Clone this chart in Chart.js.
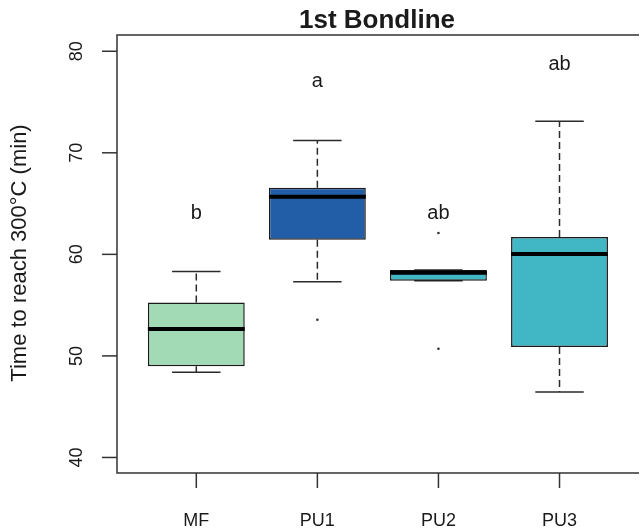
<!DOCTYPE html>
<html>
<head>
<meta charset="utf-8">
<script src="https://cdn.jsdelivr.net/npm/chart.js@4"></script>
<style>
  html, body { margin: 0; padding: 0; background: #fff; overflow: hidden; }
  #wrap { width: 641px; height: 529px; }
</style>
</head>
<body>
<div id="wrap"><canvas id="boxChart" width="641" height="529"></canvas></div>
<script>
// ===== DATA =====
var categories = ['MF', 'PU1', 'PU2', 'PU3'];
var lowWhisker = [48.4, 57.3, 57.4, 46.45];
var q1 = [48.97, 61.44, 57.4, 50.88];
var medians = [52.65, 65.67, 58.2, 60.03];
var q3 = [55.27, 66.56, 58.45, 61.7];
var highWhisker = [58.32, 71.2, 58.45, 73.1];
var outliers = [[], [53.56], [62.1, 50.71], []];
var letters = ['b', 'a', 'ab', 'ab'];
var letterY = [64.0, 77.0, 64.07, 78.65];
var fills = ['#a1dab4', '#225ea8', '#41b6c4', '#41b6c4'];
var yTicks = [40, 50, 60, 70, 80];

var titleText = '1st Bondline';
var yTitle = 'Time to reach 300\u00B0C (min)';
var FONT = '"Liberation Sans", Arial, sans-serif';
var INK = '#1a1a1a';

// ===== DATASETS =====
var boxData = [];
var outlierData = [];
for (var i = 0; i < categories.length; i++) {
  boxData.push({ x: i + 1, y: [q1[i], q3[i]] });
  for (var k = 0; k < outliers[i].length; k++) {
    outlierData.push({ x: i + 1, y: outliers[i][k] });
  }
}

// ===== DRAWING PLUGIN: whiskers, medians, axes, text =====
var boxplotDecor = {
  id: 'boxplotDecor',
  beforeDatasetsDraw: function(chart) {
    var ctx = chart.ctx, xs = chart.scales.x, ys = chart.scales.y;
    var unit = xs.getPixelForValue(2) - xs.getPixelForValue(1);
    ctx.save();
    ctx.strokeStyle = '#2a2a2a';
    ctx.lineWidth = 1.5;
    for (var i = 0; i < categories.length; i++) {
      var cx = xs.getPixelForValue(i + 1);
      // dashed whiskers
      ctx.setLineDash([7, 4]);
      ctx.beginPath();
      ctx.moveTo(cx, ys.getPixelForValue(q3[i]));
      ctx.lineTo(cx, ys.getPixelForValue(highWhisker[i]));
      ctx.moveTo(cx, ys.getPixelForValue(q1[i]));
      ctx.lineTo(cx, ys.getPixelForValue(lowWhisker[i]));
      ctx.stroke();
      // caps
      ctx.setLineDash([]);
      var hw = unit * 0.2;
      ctx.beginPath();
      ctx.moveTo(cx - hw, ys.getPixelForValue(highWhisker[i]));
      ctx.lineTo(cx + hw, ys.getPixelForValue(highWhisker[i]));
      ctx.moveTo(cx - hw, ys.getPixelForValue(lowWhisker[i]));
      ctx.lineTo(cx + hw, ys.getPixelForValue(lowWhisker[i]));
      ctx.stroke();
    }
    ctx.restore();
  },
  afterDatasetsDraw: function(chart) {
    var ctx = chart.ctx, xs = chart.scales.x, ys = chart.scales.y;
    var area = chart.chartArea;
    var unit = xs.getPixelForValue(2) - xs.getPixelForValue(1);
    ctx.save();

    // medians
    ctx.strokeStyle = '#000';
    ctx.lineWidth = 4;
    for (var i = 0; i < categories.length; i++) {
      var cx = xs.getPixelForValue(i + 1);
      var my = ys.getPixelForValue(medians[i]);
      ctx.beginPath();
      ctx.moveTo(cx - unit * 0.4, my);
      ctx.lineTo(cx + unit * 0.4, my);
      ctx.stroke();
    }

    // frame (right side falls off the canvas)
    ctx.strokeStyle = '#333';
    ctx.lineWidth = 1.5;
    ctx.beginPath();
    ctx.moveTo(area.right + 2, area.top);
    ctx.lineTo(area.left, area.top);
    ctx.lineTo(area.left, area.bottom);
    ctx.lineTo(area.right + 2, area.bottom);
    ctx.stroke();

    // y ticks + rotated labels
    ctx.fillStyle = INK;
    ctx.font = '18px ' + FONT;
    ctx.textAlign = 'center';
    ctx.textBaseline = 'middle';
    for (var t = 0; t < yTicks.length; t++) {
      var ty = ys.getPixelForValue(yTicks[t]);
      ctx.beginPath();
      ctx.moveTo(area.left, ty);
      ctx.lineTo(area.left - 15, ty);
      ctx.stroke();
      ctx.save();
      ctx.translate(77, ty);
      ctx.rotate(-Math.PI / 2);
      ctx.fillText(String(yTicks[t]), 0, 0);
      ctx.restore();
    }

    // x ticks + labels
    ctx.textBaseline = 'alphabetic';
    for (var c = 0; c < categories.length; c++) {
      var tx = xs.getPixelForValue(c + 1);
      ctx.beginPath();
      ctx.moveTo(tx, area.bottom);
      ctx.lineTo(tx, area.bottom + 15);
      ctx.stroke();
      ctx.fillText(categories[c], tx, 526);
    }

    // y axis title
    ctx.font = '22px ' + FONT;
    ctx.save();
    ctx.translate(20, (area.top + area.bottom) / 2 - 1);
    ctx.rotate(-Math.PI / 2);
    ctx.textBaseline = 'middle';
    ctx.fillText(yTitle, 0, 0);
    ctx.restore();

    // significance letters
    ctx.font = '20px ' + FONT;
    ctx.textBaseline = 'middle';
    for (var j = 0; j < letters.length; j++) {
      ctx.fillText(letters[j], xs.getPixelForValue(j + 1), ys.getPixelForValue(letterY[j]));
    }

    // title
    ctx.font = 'bold 26px ' + FONT;
    ctx.textBaseline = 'alphabetic';
    ctx.fillText(titleText, (area.left + area.right) / 2, 28);

    ctx.restore();
  }
};

// ===== CHART =====
var chart = new Chart(document.getElementById('boxChart'), {
  data: {
    datasets: [
      {
        type: 'bar',
        data: boxData,
        backgroundColor: fills,
        borderColor: INK,
        borderWidth: 1.5,
        borderSkipped: false,
        barPercentage: 0.8,
        categoryPercentage: 1.0
      },
      {
        type: 'scatter',
        data: outlierData,
        pointRadius: 1.3,
        pointBackgroundColor: '#333',
        pointBorderWidth: 0
      }
    ]
  },
  options: {
    responsive: false,
    animation: false,
    devicePixelRatio: 1,
    layout: { padding: { left: 117, top: 35, right: 0, bottom: 56 } },
    plugins: {
      legend: { display: false },
      title: { display: false },
      tooltip: { enabled: false }
    },
    scales: {
      x: {
        type: 'linear', display: false, offset: false, min: 0.345, max: 4.64,
        afterBuildTicks: function(scale) {
          scale.ticks = categories.map(function(c, i) { return { value: i + 1 }; });
        }
      },
      y: { type: 'linear', display: false, min: 38.47, max: 81.6 }
    }
  },
  plugins: [boxplotDecor]
});
</script>
</body>
</html>
